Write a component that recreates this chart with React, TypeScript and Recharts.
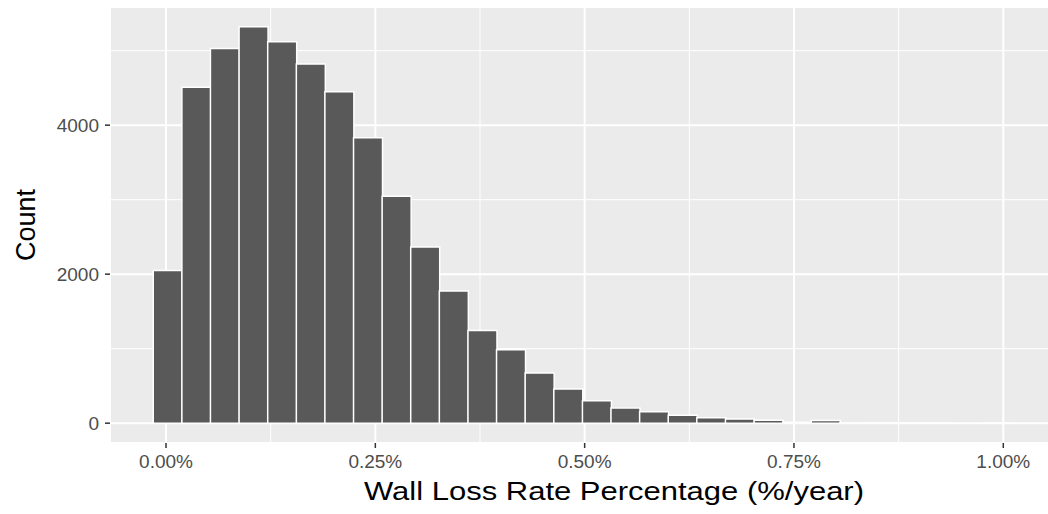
import { Bar, BarChart, CartesianGrid, Label, XAxis, YAxis } from 'recharts';

// histogram bins: centre of each bin (in %/year) and its count
const binCenters = [
  0.0018, 0.036, 0.0701, 0.1043, 0.1385, 0.1727, 0.2068, 0.241, 0.2752, 0.3093,
  0.3435, 0.3777, 0.4118, 0.446, 0.4802, 0.5144, 0.5485, 0.5827, 0.6169, 0.651,
  0.6852, 0.7194, 0.7535, 0.7877, 0.8219, 0.8561, 0.8902, 0.9244, 0.9586, 0.9927,
];
const counts = [
  2050, 4510, 5030, 5320, 5120, 4820, 4450, 3830, 3045, 2365,
  1775, 1245, 985, 675, 460, 300, 205, 155, 105, 72,
  55, 38, 12, 35, 3, 2, 1, 1, 0, 1,
];

const xDomain = [-0.0669, 1.137];
const yDomain = [-266, 5586];
const xTicks = [0, 0.25, 0.5, 0.75, 1.0];
const xMinorTicks = [0.125, 0.375, 0.625, 0.875, 1.125];
const yTicks = [0, 2000, 4000];
const yMinorTicks = [1000, 3000, 5000];

const data = binCenters.map((x, i) => ({ x, count: counts[i] }));

const font = '"Liberation Sans", Arial, sans-serif';

export default function App() {
  return (
    <div
      style={{
        position: 'fixed',
        top: 0,
        left: 0,
        width: 1048,
        height: 514,
        overflow: 'hidden',
        background: '#fff',
      }}
    >
      <BarChart
        width={1130}
        height={514}
        data={data}
        margin={{ top: 7, right: 12, left: 0, bottom: 0 }}
        barCategoryGap={0}
        barGap={0}
      >
        <CartesianGrid fill="#EBEBEB" fillOpacity={1} stroke="#fff" strokeWidth={2} />
        <CartesianGrid
          xAxisId="minor"
          yAxisId="minor"
          fill="none"
          stroke="#fff"
          strokeWidth={1}
        />
        <XAxis
          dataKey="x"
          type="number"
          domain={xDomain}
          ticks={xTicks}
          allowDataOverflow
          height={71}
          axisLine={false}
          tickSize={5}
          tickLine={{ stroke: '#333333', strokeWidth: 1.5 }}
          tickMargin={7}
          tick={{ fill: '#4D4D4D', fontSize: 19, fontFamily: font }}
          tickFormatter={(v: number) => `${v.toFixed(2)}%`}
        >
          <Label
            content={({ viewBox }: any) => (
              <text
                x={viewBox.x + viewBox.width / 2}
                y={viewBox.y + viewBox.height - 14}
                textAnchor="middle"
                fontSize={25}
                fontFamily={font}
                fill="#000"
                textLength={500}
                lengthAdjust="spacingAndGlyphs"
              >
                Wall Loss Rate Percentage (%/year)
              </text>
            )}
          />
        </XAxis>
        <XAxis
          xAxisId="minor"
          dataKey="x"
          type="number"
          domain={xDomain}
          ticks={xMinorTicks}
          allowDataOverflow
          hide
        />
        <YAxis
          type="number"
          domain={yDomain}
          ticks={yTicks}
          allowDataOverflow
          width={110}
          axisLine={false}
          tickSize={5}
          tickLine={{ stroke: '#333333', strokeWidth: 1.5 }}
          tickMargin={6}
          tick={{ fill: '#4D4D4D', fontSize: 19, fontFamily: font }}
        >
          <Label
            content={({ viewBox }: any) => {
              const cx = viewBox.x + 35;
              const cy = viewBox.y + viewBox.height / 2;
              return (
                <text
                  x={cx}
                  y={cy}
                  textAnchor="middle"
                  fontSize={27}
                  fontFamily={font}
                  fill="#000"
                  transform={`rotate(-90, ${cx}, ${cy})`}
                >
                  Count
                </text>
              );
            }}
          />
        </YAxis>
        <YAxis
          yAxisId="minor"
          type="number"
          domain={yDomain}
          ticks={yMinorTicks}
          allowDataOverflow
          hide
        />
        <Bar
          dataKey="count"
          fill="#595959"
          stroke="#fff"
          strokeWidth={1.5}
          isAnimationActive={false}
        />
      </BarChart>
    </div>
  );
}
